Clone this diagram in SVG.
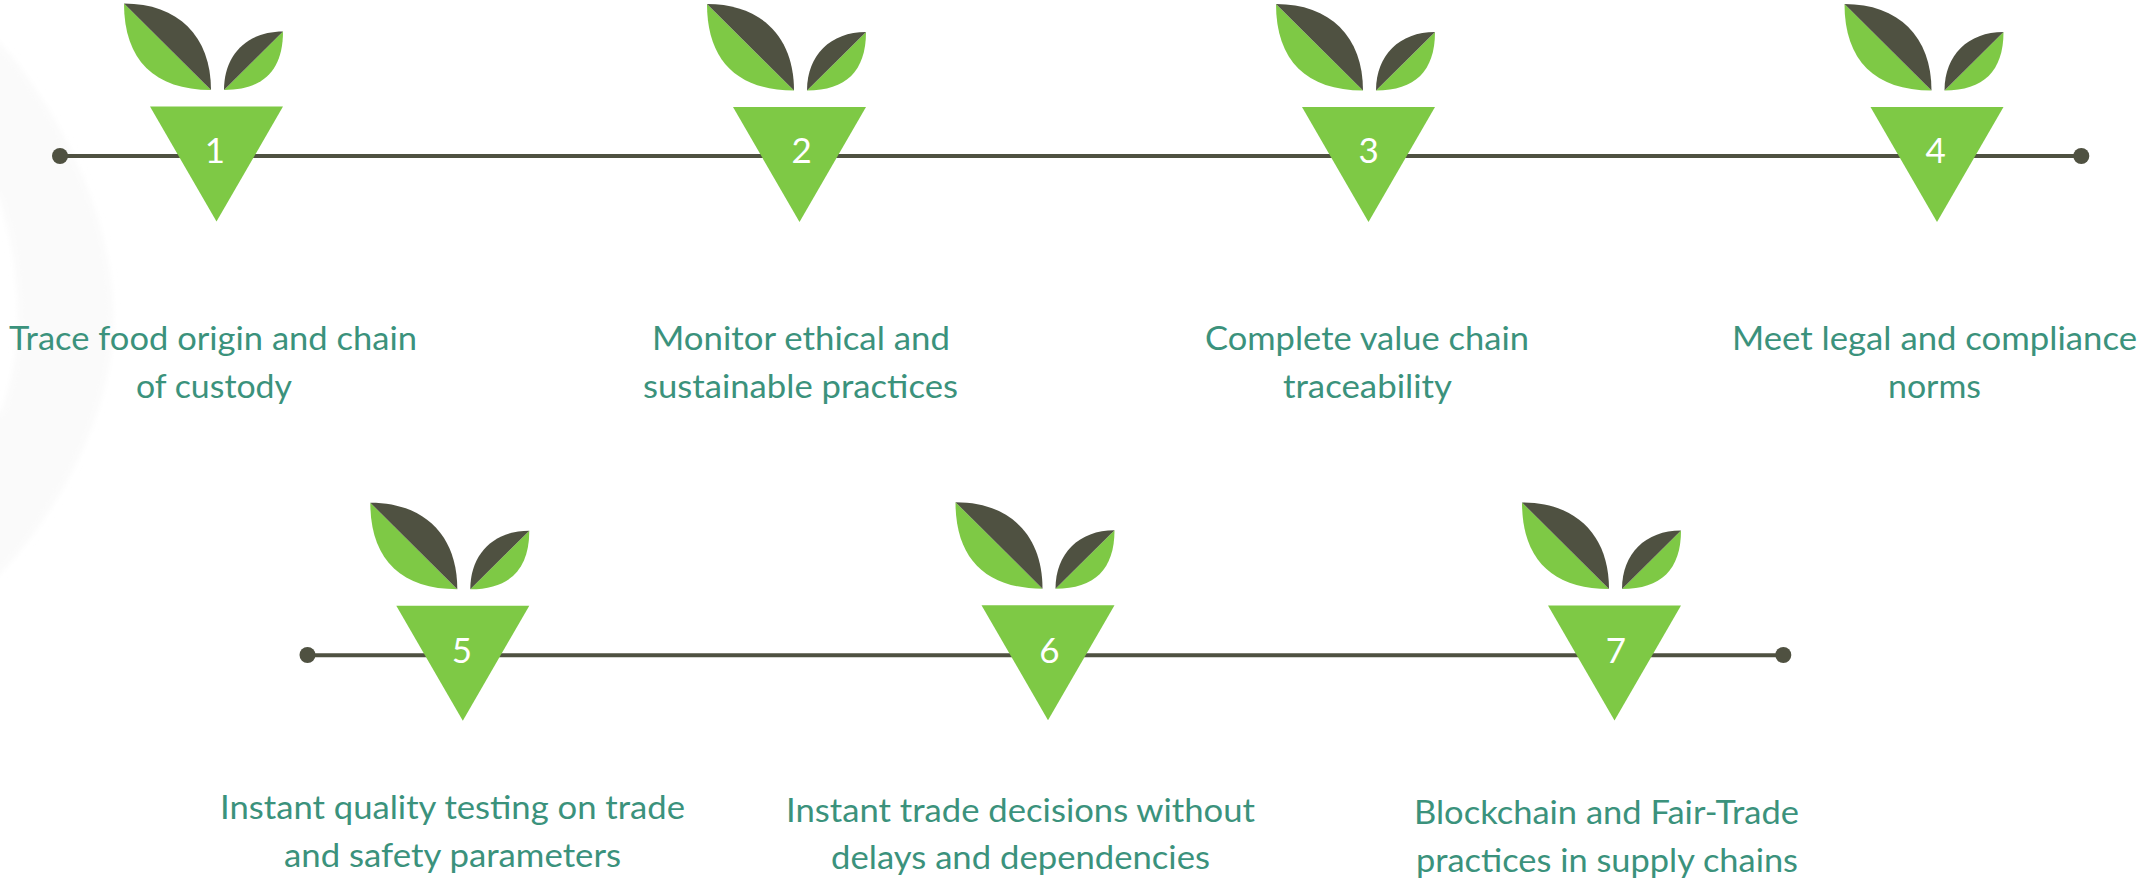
<svg xmlns="http://www.w3.org/2000/svg" xmlns:xlink="http://www.w3.org/1999/xlink" width="2145" height="881" viewBox="0 0 2145 881">
<style>
.dark{fill:#4f5141}
.green{fill:#7ec945}
.line{stroke:#4f5141;stroke-width:4;fill:none}
.num{font-family:"Lato","Liberation Sans",sans-serif;font-size:35px;fill:#ffffff;text-anchor:middle}
.lbl{font-family:"Lato","Liberation Sans",sans-serif;font-size:33.5px;fill:#3b927c}
</style>
<defs>
<filter id="soft" x="-20%" y="-20%" width="140%" height="140%"><feGaussianBlur stdDeviation="3"/></filter>
<g id="plant">
<path class="green" d="M-26 -103 C-26 -46.5 4.5 -16.5 61 -16.5 Z"/>
<path class="dark" d="M-26 -103 C28 -103 61 -70.5 61 -16.5 Z"/>
<path class="green" d="M74 -16.5 C113 -16.5 133 -36 133 -75 Z"/>
<path class="dark" d="M74 -16.5 C74 -51.9 97.6 -75 133 -75 Z"/>
<path class="green" d="M0 0 H133 L66.5 115 Z"/>
</g>
</defs>
<rect width="2145" height="881" fill="#ffffff"/>
<path id="backdrop" fill="#fafafa" filter="url(#soft)" d="M-10 33 L0 43 C45 95 113 200 113 320 C113 410 60 510 0 573 L-10 583 L-10 405 L0 415 C14 380 20 340 18 300 C16 260 8 225 0 198 L-10 188 Z"/>
<g id="connectors">
<line class="line" x1="60" y1="156" x2="2081" y2="156"/>
<circle class="dark" cx="60" cy="156" r="8"/>
<circle class="dark" cx="2081.3" cy="156" r="8"/>
<line class="line" x1="307" y1="655.2" x2="1783" y2="655.2"/>
<circle class="dark" cx="307.5" cy="655" r="8"/>
<circle class="dark" cx="1783.3" cy="655" r="8"/>
</g>
<g id="node1"><use xlink:href="#plant" href="#plant" transform="translate(150,106.5)"/>
<text class="num" x="215" y="163">1</text>
<text class="lbl" x="9" y="350" textLength="408" lengthAdjust="spacingAndGlyphs">Trace food origin and chain</text>
<text class="lbl" x="136" y="398" textLength="156" lengthAdjust="spacingAndGlyphs">of custody</text></g>
<g id="node2"><use xlink:href="#plant" href="#plant" transform="translate(733,107)"/>
<text class="num" x="801.7" y="163">2</text>
<text class="lbl" x="652" y="350" textLength="298" lengthAdjust="spacingAndGlyphs">Monitor ethical and</text>
<text class="lbl" x="643" y="398" textLength="315" lengthAdjust="spacingAndGlyphs">sustainable practices</text></g>
<g id="node3"><use xlink:href="#plant" href="#plant" transform="translate(1302,107)"/>
<text class="num" x="1368.7" y="163">3</text>
<text class="lbl" x="1205" y="350" textLength="324" lengthAdjust="spacingAndGlyphs">Complete value chain</text>
<text class="lbl" x="1283" y="398" textLength="169" lengthAdjust="spacingAndGlyphs">traceability</text></g>
<g id="node4"><use xlink:href="#plant" href="#plant" transform="translate(1870.5,107)"/>
<text class="num" x="1935.7" y="163">4</text>
<text class="lbl" x="1732" y="350" textLength="405" lengthAdjust="spacingAndGlyphs">Meet legal and compliance</text>
<text class="lbl" x="1888" y="398" textLength="93" lengthAdjust="spacingAndGlyphs">norms</text></g>
<g id="node5"><use xlink:href="#plant" href="#plant" transform="translate(396.3,605.7)"/>
<text class="num" x="462" y="663">5</text>
<text class="lbl" x="220" y="819.3" textLength="465" lengthAdjust="spacingAndGlyphs">Instant quality testing on trade</text>
<text class="lbl" x="284" y="866.7" textLength="337" lengthAdjust="spacingAndGlyphs">and safety parameters</text></g>
<g id="node6"><use xlink:href="#plant" href="#plant" transform="translate(981.5,605.2)"/>
<text class="num" x="1049.3" y="663">6</text>
<text class="lbl" x="786" y="821.7" textLength="469" lengthAdjust="spacingAndGlyphs">Instant trade decisions without</text>
<text class="lbl" x="831" y="869.3" textLength="379" lengthAdjust="spacingAndGlyphs">delays and dependencies</text></g>
<g id="node7"><use xlink:href="#plant" href="#plant" transform="translate(1548,605.5)"/>
<text class="num" x="1616" y="663">7</text>
<text class="lbl" x="1414" y="824" textLength="385" lengthAdjust="spacingAndGlyphs">Blockchain and Fair-Trade</text>
<text class="lbl" x="1416" y="871.5" textLength="382" lengthAdjust="spacingAndGlyphs">practices in supply chains</text></g>
</svg>
